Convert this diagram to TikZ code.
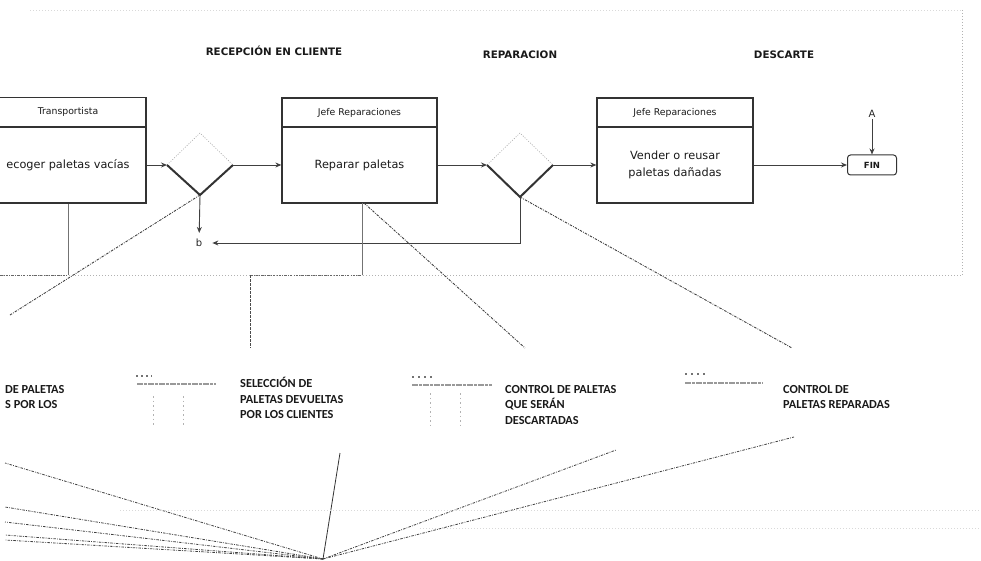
\documentclass[tikz,border=0pt]{standalone}
\usepackage{fontspec}
\setmainfont{DejaVu Sans}
\newfontfamily\lblfont{Carlito}
\usetikzlibrary{arrows.meta}
\begin{document}
\begin{tikzpicture}[x=1pt,y=-1pt,
  hdr/.style={font=\bfseries\fontsize{10.3}{12}\selectfont, text=black!90, inner sep=0},
  lbl/.style={font=\lblfont\bfseries\fontsize{12.3}{15.5}\selectfont, text=black!90, align=left, anchor=north west, inner sep=0},
  role/.style={draw=black!80, line width=1.3pt, minimum height=29pt, inner sep=0, text=black!90, font=\fontsize{9.3}{11}\selectfont},
  task/.style={draw=black!80, line width=1.3pt, minimum height=76pt, inner sep=0, align=center, text=black!90, font=\fontsize{11.3}{17.5}\selectfont},
  flow/.style={-{Stealth[length=6pt,width=5pt]}, line width=0.9pt, black!75},
  ddot/.style={black!75, line width=0.9pt, dash pattern=on 2.5pt off 1.2pt on 0.8pt off 1.2pt},
  faint/.style={black!30, line width=0.6pt, dash pattern=on 1pt off 2pt},
  guide/.style={black!55, line width=0.6pt},
  dside/.style={black!80, line width=2pt, line join=miter},
  dtop/.style={black!35, line width=0.6pt, dash pattern=on 1pt off 1.5pt},
  smudge/.style={black!40, line width=2.5pt, dash pattern=on 6pt off 1pt on 3pt off 1pt},
  tick/.style={black!30, line width=0.6pt, dash pattern=on 1.5pt off 3pt}
]
\useasboundingbox (0,0) rectangle (981,561);
\clip (0,0) rectangle (981,561);

% lane headers
\node[hdr] (h1) at (274,51) {RECEPCIÓN EN CLIENTE};
\node[hdr] (h2) at (520,55) {REPARACION};
\node[hdr] (h3) at (784,55) {DESCARTE};

% lane frame
\draw[faint, black!15] (30,10) -- (962,10);
\draw[faint] (962,10) -- (962,276);
\draw[faint] (0,275) -- (962,275);
\draw[ddot, black!60, line width=0.7pt] (0,275) -- (68,275);
\draw[ddot, black!60, line width=0.7pt] (250,275) -- (362,275);

% boxes
\node[role, minimum width=156pt] (r1) at (68,112) {Transportista};
\node[task, minimum width=156pt] (t1) at (68,165) {ecoger paletas vacías};
\node[role, minimum width=155pt] (r2) at (359.5,112.5) {Jefe Reparaciones};
\node[task, minimum width=155pt] (t2) at (359.5,165) {Reparar paletas};
\node[role, minimum width=156pt] (r3) at (675,112.5) {Jefe Reparaciones};
\node[task, minimum width=156pt] (t3) at (675,165) {Vender o reusar\\paletas dañadas};
\node[draw=black!80, line width=1pt, rounded corners=3pt, minimum width=49pt, minimum height=20pt, inner sep=0, text=black!90, font=\bfseries\fontsize{8.5}{10}\selectfont] (fin) at (872,165) {FIN};
\node[font=\fontsize{10}{12}\selectfont, inner sep=1pt, text=black!85] (A) at (872,114) {A};
\node[font=\fontsize{10}{12}\selectfont, inner sep=1pt, text=black!85] (b) at (199,243) {b};

% diamonds
\coordinate (d1l) at (167,165); \coordinate (d1t) at (200,133);
\coordinate (d1r) at (233,165); \coordinate (d1b) at (200,195);
\coordinate (d2l) at (487,165); \coordinate (d2t) at (520,133);
\coordinate (d2r) at (553,165); \coordinate (d2b) at (520,197);
\draw[dtop] (d1l) -- (d1t) -- (d1r);
\draw[dside] (d1l) -- (d1b) -- (d1r);
\draw[dtop] (d2l) -- (d2t) -- (d2r);
\draw[dside] (d2l) -- (d2b) -- (d2r);

% flow
\draw[flow] (t1.east) -- (d1l);
\draw[flow] (d1r) -- (t2.west);
\draw[flow] (t2.east) -- (d2l);
\draw[flow] (d2r) -- (t3.west);
\draw[flow] (t3.east) -- (fin.west);
\draw[flow] (A) -- (fin);
\draw[flow, shorten >=5pt] (d1b) -- (b);
\draw[flow, shorten >=9pt] (d2b) |- (b);

% guide lines
\coordinate (g1) at (68,275);
\coordinate (g2a) at (362,203); \coordinate (g2) at (362,275);
\coordinate (g3a) at (250,275); \coordinate (g3) at (250,348);
\draw[guide] (t1.south) -- (g1);
\draw[guide] (g2a) -- (g2);
\draw[guide, black!70, dash pattern=on 3pt off 1pt] (g3a) -- (g3);

% dash-dot pointers
\coordinate (p1) at (10,315);
\coordinate (p2a) at (364,203); \coordinate (p2) at (525,348);
\coordinate (p3) at (792,348);
\draw[ddot] (d1b) -- (p1);
\draw[ddot] (p2a) -- (p2);
\draw[ddot] (d2b) -- (p3);

% labels
\node[lbl] (L1) at (5,383) {\rule{0pt}{10pt}DE PALETAS\\S POR LOS};
\node[lbl] (L2) at (240,377) {\rule{0pt}{10pt}SELECCIÓN DE\\PALETAS DEVUELTAS\\POR LOS CLIENTES};
\node[lbl] (L3) at (505,383) {\rule{0pt}{10pt}CONTROL DE PALETAS\\QUE SERÁN\\DESCARTADAS};
\node[lbl] (L4) at (783,383) {\rule{0pt}{10pt}CONTROL DE\\PALETAS REPARADAS};

% small blurred icons
\draw[smudge] (137,384) -- (216,384);
\draw[black!55, line width=1.2pt, dash pattern=on 2pt off 3pt] (136,376) -- (152,376);
\draw[tick] (153,396) -- (153,425);
\draw[tick] (183,396) -- (183,425);
\draw[smudge] (412,385) -- (492,385);
\draw[black!55, line width=1.2pt, dash pattern=on 2pt off 4pt] (412,377) -- (432,377);
\draw[tick] (430,393) -- (430,425);
\draw[tick] (460,393) -- (460,425);
\draw[smudge] (685,383) -- (763,383);
\draw[black!55, line width=1.2pt, dash pattern=on 2pt off 4pt] (685,374) -- (705,374);

% bottom fan
\coordinate (fc) at (323,559);
\coordinate (f1) at (5,463); \coordinate (f2) at (5,507);
\coordinate (f3) at (5,522); \coordinate (f4) at (5,535);
\coordinate (f5) at (5,540); \coordinate (f6) at (340,453);
\coordinate (f7) at (616,450); \coordinate (f8) at (794,437);
\foreach \f in {f1,f2,f3,f4,f5,f7,f8} \draw[ddot, line width=0.8pt] (fc) -- (\f);
\draw[black!80, line width=0.8pt] (fc) -- (f6);
\draw[faint, black!15] (120,510) -- (981,510);
\draw[faint, black!15] (420,528) -- (981,528);
\end{tikzpicture}
\end{document}
